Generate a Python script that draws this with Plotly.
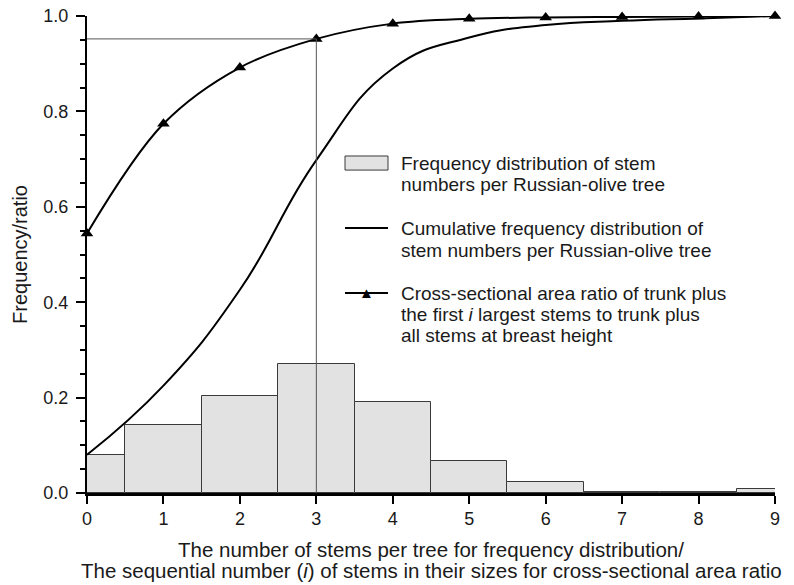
import plotly.graph_objects as go

# data
stems = [0, 1, 2, 3, 4, 5, 6, 7, 8, 9]
freq = [0.080, 0.142, 0.203, 0.271, 0.190, 0.067, 0.024, 0.003, 0.003, 0.008]
cum_freq = [0.080, 0.225, 0.426, 0.698, 0.890, 0.955, 0.981, 0.990, 0.995, 1.000]
area_ratio = [0.544, 0.774, 0.892, 0.952, 0.984, 0.994, 0.997, 0.998, 0.999, 1.000]

legend_lines = [
    ["Frequency distribution of stem", "numbers per Russian-olive tree"],
    ["Cumulative frequency distribution of", "stem numbers per Russian-olive tree"],
    ["Cross-sectional area ratio of trunk plus",
     "the first <i>i</i> largest stems to trunk plus",
     "all stems at breast height"],
]
x_title = ["The number of stems per tree for frequency distribution/",
           "The sequential number (<i>i</i>) of stems in their sizes for cross-sectional area ratio"]

FONT = "Liberation Sans, Arial, sans-serif"
INK = "#1a1a1a"

fig = go.Figure()

fig.add_trace(go.Bar(
    x=stems, y=freq, width=1,
    marker=dict(color="#e2e2e2", line=dict(color="#3a3a3a", width=1)),
    showlegend=False,
))
fig.add_trace(go.Scatter(
    x=stems, y=cum_freq, mode="lines",
    line=dict(color="black", width=2, shape="spline", smoothing=1.3),
    showlegend=False,
))
fig.add_trace(go.Scatter(
    x=stems, y=area_ratio, mode="lines+markers",
    line=dict(color="black", width=2, shape="spline", smoothing=1.0),
    marker=dict(symbol="triangle-up", size=11, color="black"),
    cliponaxis=False, showlegend=False,
))

# guide lines at i = 3
i_ref = 3
fig.add_shape(type="line", xref="x", yref="y", x0=0, x1=stems[i_ref],
              y0=area_ratio[i_ref], y1=area_ratio[i_ref],
              line=dict(color="#555", width=1))
fig.add_shape(type="line", xref="x", yref="y", x0=stems[i_ref], x1=stems[i_ref],
              y0=0, y1=area_ratio[i_ref], line=dict(color="#555", width=1))

# hand-made legend (paper coords)
sx0, sx1 = 0.375, 0.4375
tx = 0.4535
fig.add_shape(type="rect", xref="paper", yref="paper", x0=sx0, x1=sx1, y0=0.677, y1=0.7065,
              fillcolor="#e2e2e2", line=dict(color="#3a3a3a", width=1))
fig.add_shape(type="line", xref="paper", yref="paper", x0=sx0, x1=sx1, y0=0.5556, y1=0.5556,
              line=dict(color="black", width=2))
fig.add_shape(type="line", xref="paper", yref="paper", x0=sx0, x1=sx1, y0=0.4193, y1=0.4193,
              line=dict(color="black", width=2))
fig.add_annotation(x=(sx0 + sx1) / 2, y=0.4193, xref="paper", yref="paper", text="▲",
                   showarrow=False, font=dict(size=15, color="black"),
                   xanchor="center", yanchor="middle")

line_ys = [[163, 185], [228, 250], [293, 315, 336]]
for block, ys in zip(legend_lines, line_ys):
    for txt, py in zip(block, ys):
        fig.add_annotation(x=tx, y=(493 - py) / 477, xref="paper", yref="paper",
                           text=txt, showarrow=False, xanchor="left", yanchor="middle",
                           font=dict(family=FONT, size=19, color=INK))

# x title as two separate lines (tight leading like the original)
for txt, py in zip(x_title, [549, 570]):
    fig.add_annotation(x=0.5, y=(493 - py) / 477, xref="paper", yref="paper",
                       text=txt, showarrow=False, xanchor="center", yanchor="middle",
                       font=dict(family=FONT, size=20.5, color=INK))

fig.update_layout(
    width=794, height=585,
    margin=dict(l=87, r=19, t=16, b=92),
    plot_bgcolor="white", paper_bgcolor="white",
    font=dict(family=FONT, size=18, color=INK),
    bargap=0,
)
fig.update_xaxes(
    range=[0, 9], tickvals=stems, ticks="outside", ticklen=8, tickwidth=1.5, tickcolor="black",
    showline=True, linecolor="black", linewidth=2.5, showgrid=False, zeroline=False,
    automargin=False,
)
fig.update_yaxes(
    range=[0, 1.0], dtick=0.2, tickformat=".1f", ticks="outside", ticklen=9, tickwidth=1.5,
    tickcolor="black", ticklabelstandoff=4,
    minor=dict(dtick=0.05, ticks="outside", ticklen=5, tickcolor="black"),
    showline=True, linecolor="black", linewidth=2, showgrid=False, zeroline=False,
    automargin=False,
    title=dict(text="Frequency/ratio", standoff=10, font=dict(size=20)),
)

# drop the page's default body margin so the figure sits at 0,0
fig.write_html("out.html", config={"displayModeBar": False},
               post_script="document.body.style.margin='0';")
